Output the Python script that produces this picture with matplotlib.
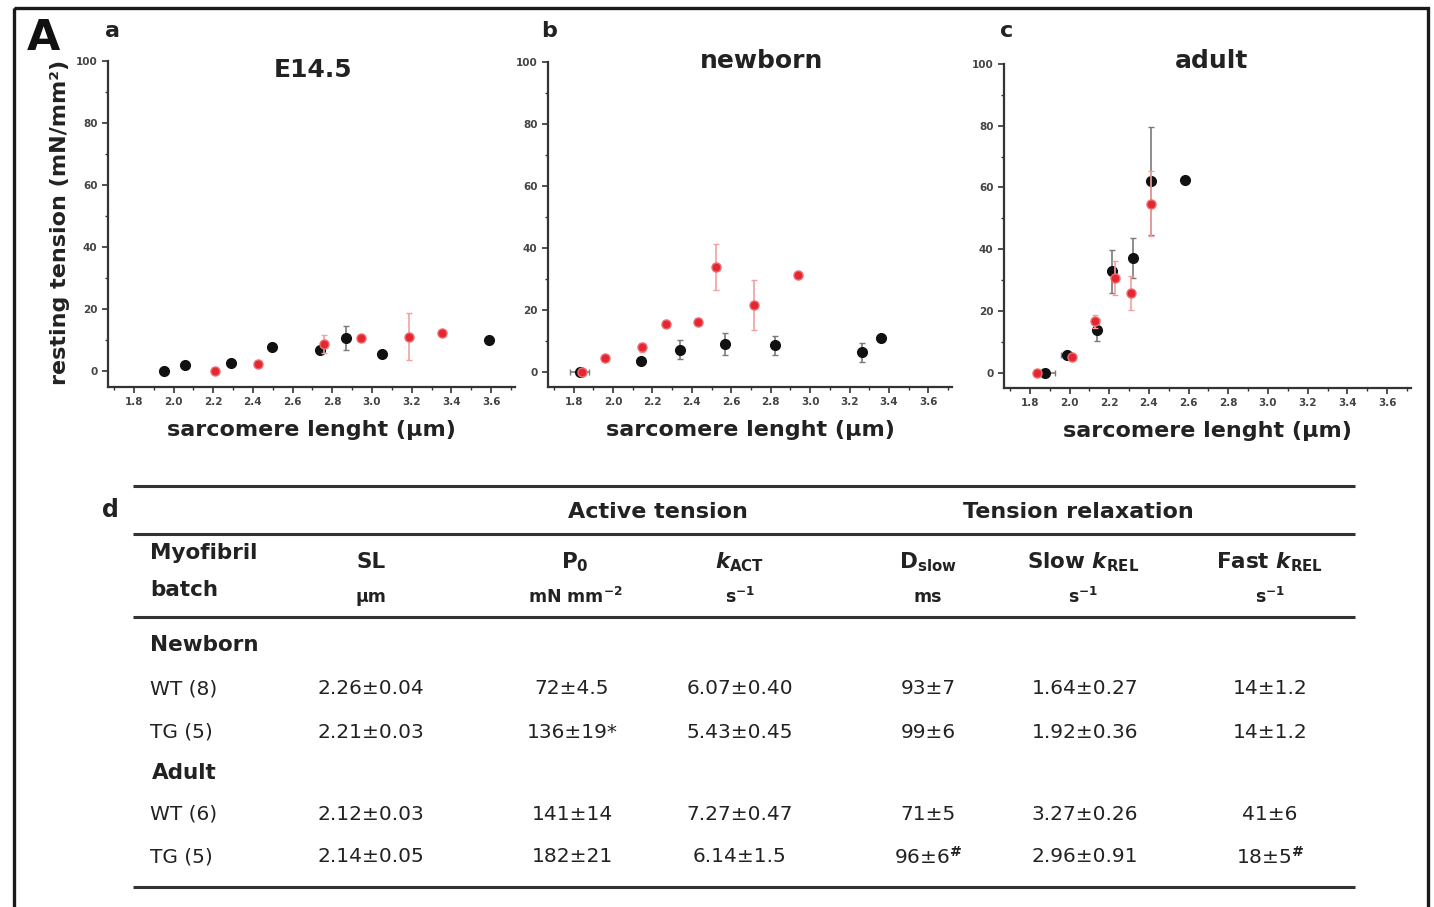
import numpy as np
import matplotlib
matplotlib.use('Agg')
import matplotlib.pyplot as plt
from matplotlib.ticker import MultipleLocator, FormatStrFormatter
from matplotlib.patches import Rectangle

plt.rcParams['mathtext.fontset'] = 'custom'
plt.rcParams['mathtext.rm'] = 'DejaVu Sans:bold'
plt.rcParams['mathtext.it'] = 'DejaVu Sans:italic:bold'
plt.rcParams['mathtext.bf'] = 'DejaVu Sans:bold'

# ---- data (black = WT, red = TG) ----
titles = ['E14.5', 'newborn', 'adult']
letters = ['a', 'b', 'c']

a_wt_x = [1.95, 2.06, 2.29, 2.495, 2.74, 2.87, 3.05, 3.59]
a_wt_y = [0.0, 2.2, 2.8, 7.8, 6.8, 10.8, 5.5, 10.0]
a_wt_e = [0.5, 0.5, 0.8, 0.8, 1.0, 4.0, 0.8, 0.8]
a_tg_x = [2.21, 2.425, 2.76, 2.945, 3.185, 3.35]
a_tg_y = [0.3, 2.5, 8.9, 10.9, 11.2, 12.5]
a_tg_e = [0.5, 0.5, 3.0, 1.0, 7.5, 0.8]

b_wt_x = [1.83, 2.14, 2.34, 2.57, 2.82, 3.265, 3.36]
b_wt_y = [0.0, 3.5, 7.1, 8.9, 8.5, 6.2, 10.7]
b_wt_e = [0.5, 0.8, 3.0, 3.5, 3.0, 3.0, 0.8]
b_wt_xe = [0.05, 0, 0, 0, 0, 0, 0]
b_tg_x = [1.84, 1.96, 2.145, 2.27, 2.43, 2.52, 2.715, 2.94]
b_tg_y = [0.0, 4.5, 7.8, 15.5, 16.1, 33.7, 21.5, 31.3]
b_tg_e = [0.5, 0.8, 1.5, 1.0, 1.2, 7.5, 8.0, 0.8]

c_wt_x = [1.875, 1.985, 2.14, 2.215, 2.32, 2.41, 2.58]
c_wt_y = [0.0, 5.8, 13.7, 32.8, 37.0, 62.0, 62.4]
c_wt_e = [0.5, 0.8, 3.5, 7.0, 6.5, 17.5, 0.8]
c_wt_xe = [0.05, 0.03, 0, 0, 0, 0, 0]
c_tg_x = [1.835, 2.01, 2.13, 2.23, 2.31, 2.41]
c_tg_y = [0.0, 5.2, 16.6, 30.7, 25.9, 54.7]
c_tg_e = [0.5, 0.8, 2.0, 5.5, 5.5, 10.5]

panels = [
    (a_wt_x, a_wt_y, a_wt_e, [0] * len(a_wt_x), a_tg_x, a_tg_y, a_tg_e),
    (b_wt_x, b_wt_y, b_wt_e, b_wt_xe, b_tg_x, b_tg_y, b_tg_e),
    (c_wt_x, c_wt_y, c_wt_e, c_wt_xe, c_tg_x, c_tg_y, c_tg_e),
]

# table
col_heads = ['SL', r'P$_0$', r'$k_{\mathrm{ACT}}$', r'D$_{\mathrm{slow}}$',
             r'Slow $k_{\mathrm{REL}}$', r'Fast $k_{\mathrm{REL}}$']
col_units = ['µm', r'mN mm$^{-2}$', r's$^{-1}$', 'ms', r's$^{-1}$', r's$^{-1}$']
groups = ['Newborn', 'Adult']
row_labels = ['WT (8)', 'TG (5)', 'WT (6)', 'TG (5)']
rows = [
    ['2.26±0.04', '72±4.5', '6.07±0.40', '93±7', '1.64±0.27', '14±1.2'],
    ['2.21±0.03', '136±19*', '5.43±0.45', '99±6', '1.92±0.36', '14±1.2'],
    ['2.12±0.03', '141±14', '7.27±0.47', '71±5', '3.27±0.26', '41±6'],
    ['2.14±0.05', '182±21', '6.14±1.5', r'96±6$^{\#}$', '2.96±0.91', r'18±5$^{\#}$'],
]

W, H = 1434, 907
fig = plt.figure(figsize=(W / 100, H / 100), dpi=100)
txt = '#222222'
red = '#e3262f'

def fpos(x0, y0, x1, y1):
    return [x0 / W, 1 - y1 / H, (x1 - x0) / W, (y1 - y0) / H]

boxes = [(108, 61, 515, 387), (548, 62, 952, 387), (1004, 64, 1411, 388)]

for i, (box, p) in enumerate(zip(boxes, panels)):
    wx, wy, we, wxe, tx, ty, te = p
    ax = fig.add_axes(fpos(*box))
    ax.patch.set_visible(False)
    ax.errorbar(wx, wy, yerr=we, xerr=wxe, fmt='o', color='#111111', ms=7,
                ecolor='#7a7a7a', elinewidth=1.2, capsize=2, zorder=3)
    ax.errorbar(tx, ty, yerr=te, fmt='o', color=red, ms=6.5, mec='#f06a70',
                ecolor='#f2a0a0', elinewidth=1.2, capsize=2, zorder=4)
    ax.set_xlim(1.67, 3.72)
    ax.set_ylim(-5, 100)
    ax.xaxis.set_major_locator(MultipleLocator(0.2))
    ax.xaxis.set_minor_locator(MultipleLocator(0.1))
    ax.xaxis.set_major_formatter(FormatStrFormatter('%.1f'))
    ax.yaxis.set_major_locator(MultipleLocator(20))
    ax.yaxis.set_minor_locator(MultipleLocator(10))
    for s in ['top', 'right']:
        ax.spines[s].set_visible(False)
    for s in ['left', 'bottom']:
        ax.spines[s].set_linewidth(1.6)
        ax.spines[s].set_color('#333333')
    ax.tick_params(which='major', length=4, width=1.2, color='#333333',
                   labelsize=7.5, labelcolor='#444444')
    ax.tick_params(which='minor', length=2.5, width=1, color='#333333')
    for lab in ax.get_xticklabels() + ax.get_yticklabels():
        lab.set_fontweight('bold')
    ax.set_xlabel('sarcomere lenght (µm)', fontsize=16, fontweight='bold',
                  color=txt, labelpad=9)

# overlay in pixel coordinates for labels, table and frame
ov = fig.add_axes([0, 0, 1, 1], zorder=-1)
ov.set_xlim(0, W)
ov.set_ylim(H, 0)
ov.axis('off')

ov.add_patch(Rectangle((14, 8), 1414, 920, fill=False, lw=2.4, ec='#1a1a1a'))
ov.text(43, 38, 'A', fontsize=31, fontweight='bold', ha='center', va='center', color='#111111')
for lx, l in zip([113, 549, 1007], letters):
    ov.text(lx, 31, l, fontsize=16, fontweight='bold', ha='center', va='center', color=txt)
for tx_, ty_, t in zip([313, 762, 1212], [70, 61, 61], titles):
    ov.text(tx_, ty_, t, fontsize=18, fontweight='bold', ha='center', va='center', color=txt)
ov.text(60, 222, 'resting tension (mN/mm²)', fontsize=16, fontweight='bold',
        rotation=90, ha='center', va='center', color=txt)
ov.text(110, 510, 'd', fontsize=17, fontweight='bold', ha='center', va='center', color=txt)

# table rules
for ly in [486, 534, 617, 887]:
    ov.plot([133, 1355], [ly, ly], color='#333333', lw=2.2, solid_capstyle='butt')

ov.text(658, 512, 'Active tension', fontsize=16, fontweight='bold', ha='center', va='center', color=txt)
ov.text(1078, 512, 'Tension relaxation', fontsize=16, fontweight='bold', ha='center', va='center', color=txt)

ov.text(150, 553, 'Myofibril', fontsize=15.5, fontweight='bold', ha='left', va='center', color=txt)
ov.text(150, 590, 'batch', fontsize=15.5, fontweight='bold', ha='left', va='center', color=txt)

head_x = [371, 575, 740, 928, 1083, 1270]
val_x = [371, 572, 740, 928, 1085, 1270]
for hx, h, u in zip(head_x, col_heads, col_units):
    ov.text(hx, 562, h, fontsize=15.5, fontweight='bold', ha='center', va='center', color=txt)
    ov.text(hx, 597, u, fontsize=12.5, fontweight='bold', ha='center', va='center', color=txt)

ov.text(150, 645, groups[0], fontsize=15.5, fontweight='bold', ha='left', va='center', color=txt)
ov.text(152, 773, groups[1], fontsize=15.5, fontweight='bold', ha='left', va='center', color=txt)

row_y = [689, 732, 814, 857]
for ry, lab, vals in zip(row_y, row_labels, rows):
    ov.text(150, ry, lab, fontsize=14.5, ha='left', va='center', color=txt)
    for vx, v in zip(val_x, vals):
        ov.text(vx, ry, v, fontsize=14.5, ha='center', va='center', color=txt)

fig.savefig('out.png', dpi=100)
